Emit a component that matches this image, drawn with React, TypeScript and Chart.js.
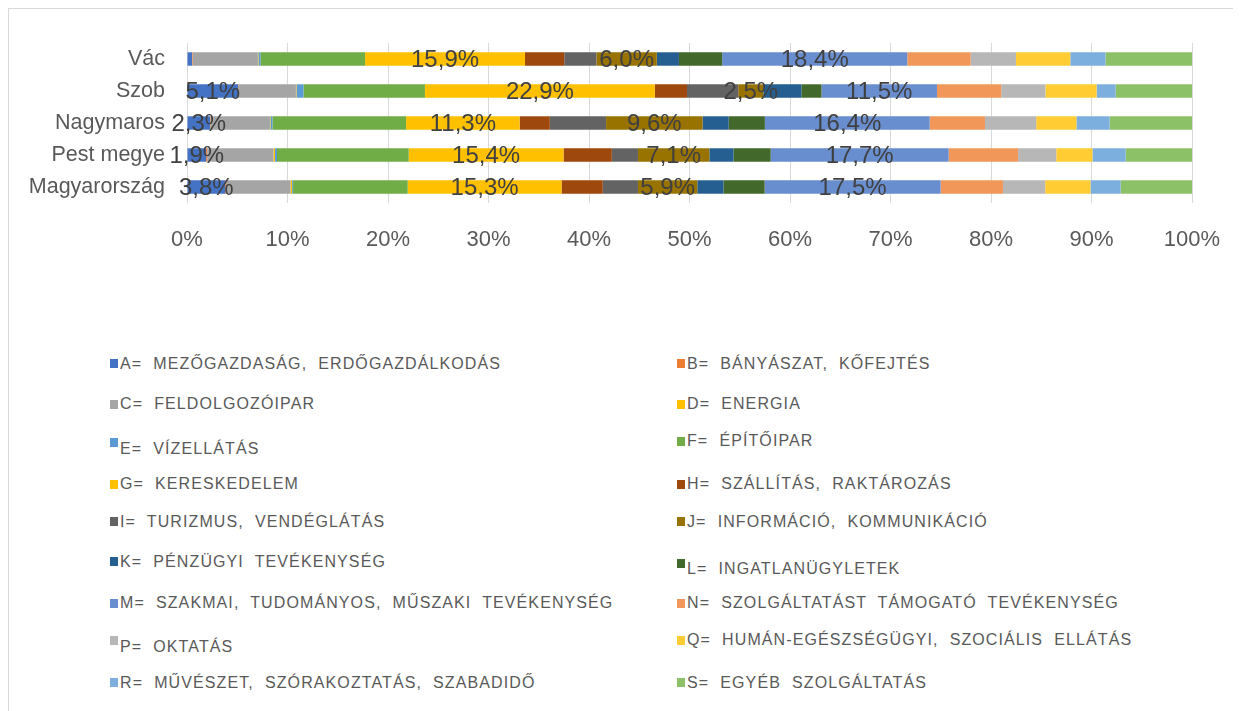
import React, { useEffect, useRef } from 'react';
import { Chart, registerables } from 'chart.js';

Chart.register(...registerables);

// ---- data ----
const categories = ['Vác', 'Szob', 'Nagymaros', 'Pest megye', 'Magyarország'];

const seriesA = [0.5, 5.1, 2.3, 1.9, 3.8];
const seriesB = [0.05, 0.05, 0.05, 0.1, 0.1];
const seriesC = [6.5, 5.7, 5.9, 6.6, 6.4];
const seriesD = [0.05, 0.05, 0.05, 0.15, 0.15];
const seriesE = [0.2, 0.7, 0.2, 0.2, 0.1];
const seriesF = [10.4, 12.1, 13.3, 13.1, 11.4];
const seriesG = [15.9, 22.9, 11.3, 15.4, 15.3];
const seriesH = [3.9, 3.2, 3.0, 4.8, 4.1];
const seriesI = [3.2, 5.1, 5.6, 2.6, 3.5];
const seriesJ = [6.0, 2.5, 9.6, 7.1, 5.9];
const seriesK = [2.2, 3.8, 2.6, 2.4, 2.6];
const seriesL = [4.3, 2.0, 3.6, 3.7, 4.1];
const seriesM = [18.4, 11.5, 16.4, 17.7, 17.5];
const seriesN = [6.3, 6.4, 5.5, 6.9, 6.2];
const seriesP = [4.5, 4.4, 5.1, 3.8, 4.2];
const seriesQ = [5.4, 5.1, 4.0, 3.6, 4.5];
const seriesR = [3.5, 1.9, 3.3, 3.3, 3.0];
const seriesS = [8.6, 7.6, 8.2, 6.6, 7.1];

const seriesValues = [
  seriesA, seriesB, seriesC, seriesD, seriesE, seriesF, seriesG, seriesH, seriesI,
  seriesJ, seriesK, seriesL, seriesM, seriesN, seriesP, seriesQ, seriesR, seriesS,
];

const seriesLabels = [
  'A=  MEZŐGAZDASÁG,  ERDŐGAZDÁLKODÁS',
  'B=  BÁNYÁSZAT,  KŐFEJTÉS',
  'C=  FELDOLGOZÓIPAR',
  'D=  ENERGIA',
  'E=  VÍZELLÁTÁS',
  'F=  ÉPÍTŐIPAR',
  'G=  KERESKEDELEM',
  'H=  SZÁLLÍTÁS,  RAKTÁROZÁS',
  'I=  TURIZMUS,  VENDÉGLÁTÁS',
  'J=  INFORMÁCIÓ,  KOMMUNIKÁCIÓ',
  'K=  PÉNZÜGYI  TEVÉKENYSÉG',
  'L=  INGATLANÜGYLETEK',
  'M=  SZAKMAI,  TUDOMÁNYOS,  MŰSZAKI  TEVÉKENYSÉG',
  'N=  SZOLGÁLTATÁST  TÁMOGATÓ  TEVÉKENYSÉG',
  'P=  OKTATÁS',
  'Q=  HUMÁN-EGÉSZSÉGÜGYI,  SZOCIÁLIS  ELLÁTÁS',
  'R=  MŰVÉSZET,  SZÓRAKOZTATÁS,  SZABADIDŐ',
  'S=  EGYÉB  SZOLGÁLTATÁS',
];

// series that carry data labels: A, G, J, M
const labelledSeries = [0, 6, 9, 12];

const xTickValues = [0, 10, 20, 30, 40, 50, 60, 70, 80, 90, 100];

// ---- styles ----
const seriesColors = [
  '#4472C4', '#ED7D31', '#A5A5A5', '#FFC000', '#5B9BD5', '#70AD47',
  '#FFC000', '#9E480E', '#636363', '#997300', '#255E91', '#43682B',
  '#698ED0', '#F1975A', '#B7B7B7', '#FFCD33', '#7CAFDD', '#8CC168',
];

const FONT = '"Liberation Sans", Arial, sans-serif';

// legend layout (frame-relative px): [column, swatchCenterY, textCenterY]
const legendLayout: [number, number, number][] = [
  [0, 354, 355], [1, 354, 355],
  [0, 395, 395], [1, 395, 395],
  [0, 433, 440], [1, 432, 432],
  [0, 475, 475], [1, 475, 475],
  [0, 512, 513], [1, 512, 513],
  [0, 552, 553], [1, 554, 560],
  [0, 594, 594], [1, 594, 594],
  [0, 631, 638], [1, 631, 631],
  [0, 673, 674], [1, 673, 674],
];
const legendColX = [101, 668];

const fmt = (v: number) => v.toFixed(1).replace('.', ',') + '%';

const segmentLabels = {
  id: 'segmentLabels',
  afterDatasetsDraw(chart: any) {
    const ctx = chart.ctx;
    ctx.save();
    ctx.font = `24px ${FONT}`;
    ctx.fillStyle = '#404040';
    ctx.textAlign = 'center';
    ctx.textBaseline = 'middle';
    labelledSeries.forEach((di) => {
      const meta = chart.getDatasetMeta(di);
      meta.data.forEach((bar: any, i: number) => {
        const v = seriesValues[di][i];
        if (v < 1) return;
        const p = bar.getProps(['x', 'y', 'base'], true);
        ctx.fillText(fmt(v), (p.x + p.base) / 2, p.y + 1);
      });
    });
    ctx.restore();
  },
};

export default function App() {
  const ref = useRef<HTMLCanvasElement>(null);

  useEffect(() => {
    document.body.style.overflow = 'hidden';
    const totals = categories.map((_, i) =>
      seriesValues.reduce((s, arr) => s + arr[i], 0)
    );
    const datasets = seriesValues.map((arr, si) => ({
      label: seriesLabels[si],
      data: arr.map((v, i) => (v / totals[i]) * 100),
      backgroundColor: seriesColors[si],
      borderWidth: 0,
      barPercentage: 0.42,
      categoryPercentage: 1,
    }));

    const chart = new Chart(ref.current!, {
      type: 'bar',
      data: { labels: categories, datasets },
      plugins: [segmentLabels],
      options: {
        indexAxis: 'y',
        animation: false,
        responsive: true,
        maintainAspectRatio: false,
        layout: { padding: { left: 0, right: 48, top: 34, bottom: 26 } },
        plugins: {
          legend: { display: false },
          tooltip: { enabled: false },
        },
        scales: {
          x: {
            stacked: true,
            min: 0,
            max: 100,
            afterFit: (axis: any) => {
              axis.height = 60;
              axis.paddingLeft = 0;
              axis.paddingRight = 0;
            },
            afterBuildTicks: (axis: any) => {
              axis.ticks = xTickValues.map((v) => ({ value: v }));
            },
            grid: { color: '#D9D9D9', lineWidth: 1, drawTicks: false },
            border: { display: false },
            ticks: {
              padding: 24,
              color: '#595959',
              font: { family: FONT, size: 22 },
              callback: (v: any) => v + '%',
            },
          },
          y: {
            stacked: true,
            afterFit: (axis: any) => {
              axis.width = 178;
              axis.paddingTop = 0;
              axis.paddingBottom = 0;
            },
            grid: { display: false, drawTicks: false },
            border: { display: false },
            ticks: {
              padding: 22,
              color: '#595959',
              font: { family: FONT, size: 21.5 },
            },
          },
        },
      },
    } as any);
    return () => chart.destroy();
  }, []);

  return (
    <div
      style={{
        position: 'relative',
        width: 1231,
        height: 702,
        borderTop: '1px solid #D9D9D9',
        borderLeft: '1px solid #D9D9D9',
        overflow: 'hidden',
        fontFamily: FONT,
      }}
    >
      <div style={{ position: 'absolute', left: 0, top: 0, width: 1231, height: 280 }}>
        <canvas ref={ref} />
      </div>
      {seriesLabels.map((lab, i) => {
        const [col, sy, ty] = legendLayout[i];
        const x = legendColX[col];
        return (
          <React.Fragment key={lab}>
            <div
              style={{
                position: 'absolute',
                left: x,
                top: sy - 4,
                width: 8,
                height: 9,
                background: seriesColors[i],
              }}
            />
            <div
              style={{
                position: 'absolute',
                left: x + 10,
                top: ty - 10,
                height: 20,
                lineHeight: '20px',
                fontSize: 16,
                letterSpacing: '1.1px',
                color: '#595959',
                whiteSpace: 'pre',
              }}
            >
              {lab}
            </div>
          </React.Fragment>
        );
      })}
    </div>
  );
}
